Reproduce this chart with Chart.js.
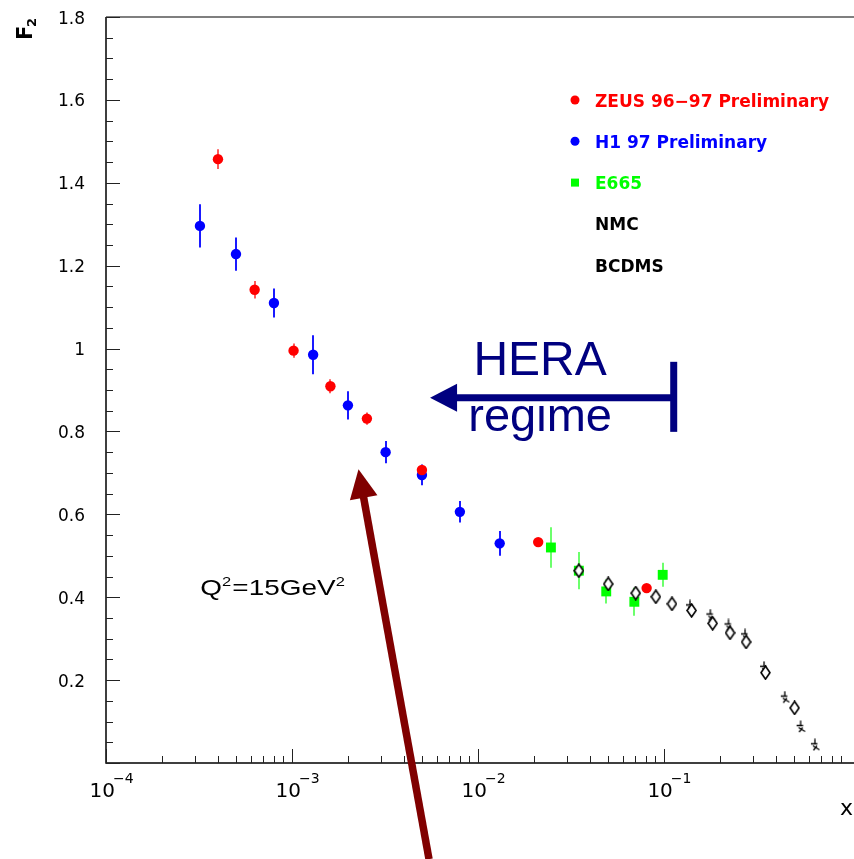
<!DOCTYPE html>
<html>
<head>
<meta charset="utf-8">
<script src="https://cdn.jsdelivr.net/npm/chart.js@4.4.1/dist/chart.umd.min.js"></script>
<style>
  html, body { margin: 0; padding: 0; background: #fff; overflow: hidden; }
  #wrap { width: 854px; height: 859px; }
  canvas { display: block; }
</style>
</head>
<body>
<div id="wrap"><canvas id="f2Chart" width="854" height="859"></canvas></div>
<script>
// F2 vs x at Q^2 = 15 GeV^2
const zeusX   = [4.0e-4, 6.3e-4, 1.02e-3, 1.61e-3, 2.53e-3, 5.0e-3, 2.11e-2, 8.08e-2];
const zeusF2  = [1.457, 1.142, 0.995, 0.909, 0.831, 0.707, 0.533, 0.422];
const zeusErr = [0.024, 0.021, 0.017, 0.017, 0.015, 0.012, 0.008, 0.008];

const h1X   = [3.2e-4, 5.0e-4, 8.0e-4, 1.30e-3, 2.0e-3, 3.19e-3, 5.0e-3, 8.0e-3, 1.31e-2];
const h1F2  = [1.296, 1.228, 1.110, 0.985, 0.863, 0.750, 0.695, 0.606, 0.530];
const h1Err = [0.052, 0.040, 0.035, 0.047, 0.034, 0.027, 0.025, 0.026, 0.030];

const e665X   = [2.47e-2, 3.49e-2, 4.9e-2, 6.94e-2, 9.86e-2];
const e665F2  = [0.520, 0.464, 0.414, 0.389, 0.454];
const e665Err = [0.049, 0.045, 0.029, 0.034, 0.029];

const nmcX  = [3.49e-2, 5.02e-2, 7.06e-2, 9.06e-2, 0.1106, 0.141, 0.183, 0.227, 0.277, 0.352, 0.505];
const nmcF2 = [0.464, 0.432, 0.410, 0.401, 0.384, 0.368, 0.337, 0.314, 0.292, 0.218, 0.133];

const bcdmsX  = [0.139, 0.179, 0.224, 0.275, 0.348, 0.450, 0.547, 0.653];
const bcdmsF2 = [0.379, 0.357, 0.333, 0.309, 0.231, 0.159, 0.088, 0.044];

const xTickExponents = [-4, -3, -2, -1];
const yTickValues = [0.2, 0.4, 0.6, 0.8, 1.0, 1.2, 1.4, 1.6, 1.8];
const yTickLabels = ['0.2', '0.4', '0.6', '0.8', '1', '1.2', '1.4', '1.6', '1.8'];

const xMin = 1e-4, xMax = 0.966;
const yMin = 0, yMax = 1.8;

function pts(xs, ys) {
    return xs.map((x, i) => ({ x: x, y: ys[i] }));
}

// open diamond for NMC
function diamondImg() {
    const c = document.createElement('canvas');
    c.width = 11; c.height = 15;
    const g = c.getContext('2d');
    g.fillStyle = '#fff';
    g.strokeStyle = '#000';
    g.lineWidth = 1.6;
    g.beginPath();
    g.moveTo(5.5, 1); g.lineTo(10, 7.5); g.lineTo(5.5, 14); g.lineTo(1, 7.5);
    g.closePath();
    g.fill(); g.stroke();
    return c;
}

// small star-like glyph for BCDMS
function bcdmsImg() {
    const c = document.createElement('canvas');
    c.width = 11; c.height = 13;
    const g = c.getContext('2d');
    g.strokeStyle = '#000';
    g.lineWidth = 1.3;
    g.beginPath();
    g.moveTo(5, 0.5); g.lineTo(5, 6);
    g.moveTo(1, 5.5); g.lineTo(7.5, 5.5);
    g.moveTo(3, 7.5); g.lineTo(9.5, 11.5);
    g.moveTo(7, 7.5); g.lineTo(3.5, 12);
    g.stroke();
    return c;
}

const datasets = [
    { label: 'ZEUS 96\u221297 Preliminary', data: pts(zeusX, zeusF2), errors: zeusErr,
      color: '#ff0000', errColor: '#ff5a5a', legendMarker: 'circle',
      pointStyle: 'circle', pointRadius: 5.2, backgroundColor: '#ff0000', borderWidth: 0, order: 0 },
    { label: 'H1 97 Preliminary', data: pts(h1X, h1F2), errors: h1Err,
      color: '#0000ff', errColor: '#1a1aff', legendMarker: 'circle',
      pointStyle: 'circle', pointRadius: 5.2, backgroundColor: '#0000ff', borderWidth: 0, order: 1 },
    { label: 'E665', data: pts(e665X, e665F2), errors: e665Err,
      color: '#00ff00', errColor: '#6cff6c', legendMarker: 'rect',
      pointStyle: 'rect', pointRadius: 7, backgroundColor: '#00ff00', borderWidth: 0, order: 3 },
    { label: 'NMC', data: pts(nmcX, nmcF2),
      color: '#000000', legendMarker: null,
      pointStyle: diamondImg(), pointRadius: 6, order: 2 },
    { label: 'BCDMS', data: pts(bcdmsX, bcdmsF2),
      color: '#000000', legendMarker: null,
      pointStyle: bcdmsImg(), pointRadius: 6, order: 4 }
];

// axes frame, inward ticks and tick labels
const axesPlugin = {
    id: 'axesPlugin',
    beforeDatasetsDraw(chart) {
        const ctx = chart.ctx;
        const a = chart.chartArea;
        const xs = chart.scales.x, ys = chart.scales.y;
        ctx.save();
        ctx.strokeStyle = '#555';
        ctx.lineWidth = 1.5;
        ctx.beginPath();
        ctx.moveTo(a.left, a.top); ctx.lineTo(chart.width, a.top);
        ctx.stroke();
        ctx.strokeStyle = '#000';
        ctx.beginPath();
        ctx.moveTo(a.left, a.top); ctx.lineTo(a.left, a.bottom); ctx.lineTo(chart.width, a.bottom);
        ctx.stroke();

        ctx.strokeStyle = '#222';
        ctx.lineWidth = 1;
        ctx.beginPath();
        for (let i = 0; i <= 36; i++) {
            const py = Math.round(ys.getPixelForValue(i * 0.05)) + 0.5;
            const len = i % 4 === 0 ? 14 : 7;
            ctx.moveTo(a.left, py); ctx.lineTo(a.left + len, py);
        }
        for (let k = -4; k <= 0; k++) {
            for (let m = 1; m <= 9; m++) {
                const v = m * Math.pow(10, k);
                if (v < xMin || v > xMax) continue;
                const px = Math.round(xs.getPixelForValue(v)) + 0.5;
                const len = m === 1 ? 14 : 7;
                ctx.moveTo(px, a.bottom); ctx.lineTo(px, a.bottom - len);
            }
        }
        ctx.stroke();

        ctx.fillStyle = '#000';
        ctx.font = '17px "DejaVu Sans"';
        ctx.textAlign = 'right';
        ctx.textBaseline = 'alphabetic';
        yTickValues.forEach((v, i) => {
            ctx.fillText(yTickLabels[i], a.left - 21, ys.getPixelForValue(v) + 6.5);
        });
        xTickExponents.forEach(e => {
            const px = xs.getPixelForValue(Math.pow(10, e));
            ctx.font = '20px "DejaVu Sans"';
            ctx.textAlign = 'right';
            ctx.fillText('10', px + 9, a.bottom + 34);
            ctx.font = '14px "DejaVu Sans"';
            ctx.textAlign = 'left';
            ctx.fillText('\u2212' + Math.abs(e), px + 7, a.bottom + 20);
        });

        // axis titles
        ctx.font = '22px "DejaVu Sans"';
        ctx.textAlign = 'right';
        ctx.fillText('x', chart.width - 1, a.bottom + 52);
        ctx.save();
        ctx.translate(32, 40);
        ctx.rotate(-Math.PI / 2);
        ctx.textAlign = 'left';
        ctx.font = 'bold 21px "DejaVu Sans"';
        ctx.fillText('F', 0, 0);
        ctx.font = 'bold 13px "DejaVu Sans"';
        ctx.fillText('2', 13, 4);
        ctx.restore();

        // error bars
        chart.data.datasets.forEach((ds, di) => {
            if (!ds.errors) return;
            const meta = chart.getDatasetMeta(di);
            ctx.strokeStyle = ds.errColor;
            ctx.lineWidth = 2;
            ctx.beginPath();
            meta.data.forEach((el, j) => {
                const p = ds.data[j];
                const px = Math.round(el.x);
                ctx.moveTo(px, ys.getPixelForValue(p.y + ds.errors[j]));
                ctx.lineTo(px, ys.getPixelForValue(p.y - ds.errors[j]));
            });
            ctx.stroke();
        });
        ctx.restore();
    }
};

// annotations, placed in data coordinates
const heraArrow = { barX: 0.113, tipX: 5.53e-3, y: 0.881, barTop: 0.968, barBottom: 0.799 };
const heraText = { x: 0.0216, line1: 0.936, line2: 0.800 };
const smallxArrow = { tailX: 5.46e-3, tailY: -0.232, tipX: 2.28e-3, tipY: 0.709 };
const q2Label = { x: 3.21e-4, y: 0.405 };

function arrowHead(ctx, tx, ty, fx, fy, len, half) {
    const dx = tx - fx, dy = ty - fy;
    const d = Math.hypot(dx, dy);
    const ux = dx / d, uy = dy / d;
    const bx = tx - ux * len, by = ty - uy * len;
    ctx.beginPath();
    ctx.moveTo(tx, ty);
    ctx.lineTo(bx - uy * half, by + ux * half);
    ctx.lineTo(bx + uy * half, by - ux * half);
    ctx.closePath();
    ctx.fill();
    return [bx + ux * 2, by + uy * 2];
}

const annotationPlugin = {
    id: 'annotationPlugin',
    afterDraw(chart) {
        const ctx = chart.ctx;
        const xs = chart.scales.x, ys = chart.scales.y;
        const a = chart.chartArea;
        ctx.save();

        // legend
        const lx = a.left + 469, lt = a.left + 489;
        chart.data.datasets.forEach((ds, i) => {
            const cy = 100 + i * 41.3;
            ctx.fillStyle = ds.color;
            if (ds.legendMarker === 'circle') {
                ctx.beginPath(); ctx.arc(lx, cy, 4.5, 0, Math.PI * 2); ctx.fill();
            } else if (ds.legendMarker === 'rect') {
                ctx.fillRect(lx - 4, cy - 4, 8, 8);
            }
            ctx.font = 'bold 17px "DejaVu Sans"';
            ctx.textAlign = 'left';
            ctx.textBaseline = 'alphabetic';
            ctx.fillText(ds.label, lt, cy + 6.5);
        });

        // HERA regime arrow
        const navy = '#000080';
        ctx.fillStyle = navy; ctx.strokeStyle = navy;
        const hy = ys.getPixelForValue(heraArrow.y);
        const hb = xs.getPixelForValue(heraArrow.barX);
        const ht = xs.getPixelForValue(heraArrow.tipX);
        ctx.lineWidth = 7;
        ctx.beginPath();
        ctx.moveTo(hb, ys.getPixelForValue(heraArrow.barTop));
        ctx.lineTo(hb, ys.getPixelForValue(heraArrow.barBottom));
        ctx.stroke();
        const hbase = arrowHead(ctx, ht, hy, hb, hy, 27, 14);
        ctx.beginPath();
        ctx.moveTo(hb, hy); ctx.lineTo(hbase[0], hy);
        ctx.stroke();
        ctx.font = '48px "Liberation Sans"';
        ctx.textAlign = 'center';
        ctx.fillText('HERA', xs.getPixelForValue(heraText.x), ys.getPixelForValue(heraText.line1));
        ctx.font = '47px "Liberation Sans"';
        ctx.fillText('regime', xs.getPixelForValue(heraText.x), ys.getPixelForValue(heraText.line2));

        // small-x arrow
        const maroon = '#800000';
        ctx.fillStyle = maroon; ctx.strokeStyle = maroon;
        const fx = xs.getPixelForValue(smallxArrow.tailX), fy = ys.getPixelForValue(smallxArrow.tailY);
        const tx = xs.getPixelForValue(smallxArrow.tipX), ty = ys.getPixelForValue(smallxArrow.tipY);
        const base = arrowHead(ctx, tx, ty, fx, fy, 29, 14);
        ctx.lineWidth = 7.5;
        ctx.beginPath();
        ctx.moveTo(fx, fy); ctx.lineTo(base[0], base[1]);
        ctx.stroke();

        // Q^2 label
        ctx.fillStyle = '#000';
        ctx.save();
        ctx.translate(xs.getPixelForValue(q2Label.x), ys.getPixelForValue(q2Label.y));
        ctx.scale(1.27, 1);
        ctx.textAlign = 'left';
        let cx = 0;
        ctx.font = '22px "Liberation Sans"';
        ctx.fillText('Q', cx, 0); cx += ctx.measureText('Q').width;
        ctx.font = '13px "Liberation Sans"';
        ctx.fillText('2', cx, -9); cx += ctx.measureText('2').width + 1;
        ctx.font = '22px "Liberation Sans"';
        ctx.fillText('=15GeV', cx, 0); cx += ctx.measureText('=15GeV').width;
        ctx.font = '13px "Liberation Sans"';
        ctx.fillText('2', cx, -9);
        ctx.restore();

        ctx.restore();
    }
};

const ctx = document.getElementById('f2Chart').getContext('2d');
new Chart(ctx, {
    type: 'scatter',
    data: { datasets: datasets },
    options: {
        responsive: false,
        animation: false,
        layout: { padding: { left: 106, top: 17, right: 0, bottom: 96 } },
        plugins: { legend: { display: false }, tooltip: { enabled: false } },
        scales: {
            x: { type: 'logarithmic', min: xMin, max: xMax, display: false },
            y: { type: 'linear', min: yMin, max: yMax, display: false }
        }
    },
    plugins: [axesPlugin, annotationPlugin]
});
</script>
</body>
</html>
